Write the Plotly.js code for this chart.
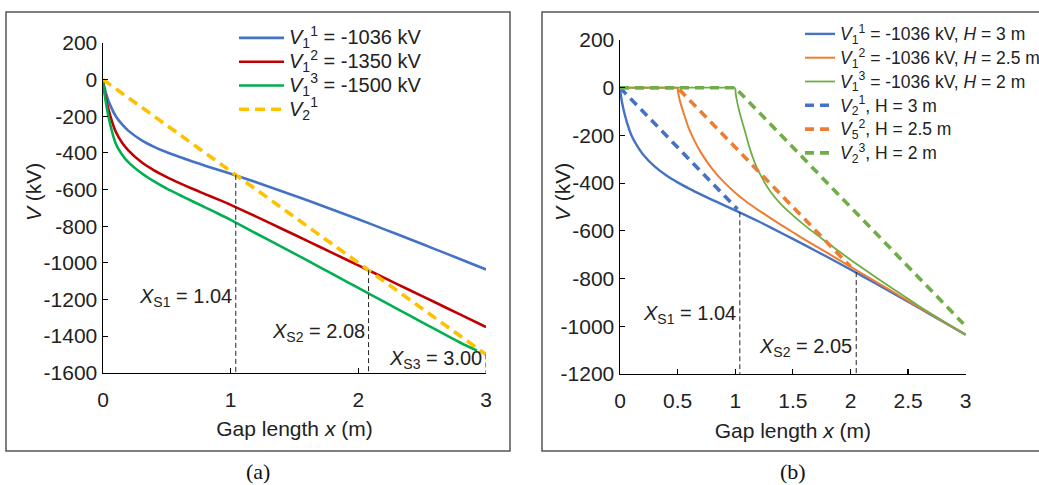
<!DOCTYPE html>
<html>
<head>
<meta charset="utf-8">
<script src="https://cdn.plot.ly/plotly-3.0.1.min.js"></script>
<style>
  html, body { margin: 0; padding: 0; background: #ffffff; overflow: hidden; }
  #chart { width: 1039px; height: 485px; }
</style>
</head>
<body>
<div id="chart"></div>
<script>
// ---- Panel (a): rod-plane gap, different applied voltages ----
// gap coordinate x (m)
const gapX = [0, 0.01, 0.03, 0.06, 0.1, 0.15, 0.2, 0.3, 0.4, 0.5, 0.6, 0.7, 0.8, 0.9, 1.0,
              1.2, 1.4, 1.6, 1.8, 2.0, 2.2, 2.4, 2.6, 2.8, 3.0];
// potential V1 along the gap (kV)
const v1_1036 = [0, -40, -90, -145, -200, -245, -280, -330, -367, -397, -423, -447, -470, -492, -514,
                 -560, -609, -659, -710, -762, -816, -870, -925, -980, -1036];
const v1_1350 = [0, -55, -125, -205, -285, -345, -388, -450, -495, -532, -565, -596, -625, -654, -684,
                 -748, -814, -880, -947, -1014, -1081, -1148, -1215, -1283, -1350];
const gapX1500 = [0, 0.01, 0.03, 0.06, 0.1, 0.15, 0.2, 0.3, 0.4, 0.5, 0.6, 0.7, 0.8, 0.9, 1.0,
                  1.2, 1.4, 1.6, 1.8, 2.0, 2.2, 2.4, 2.6, 2.8, 2.93];
const v1_1500 = [0, -65, -155, -255, -350, -410, -452, -510, -556, -595, -630, -664, -697, -731, -766,
                 -840, -913, -987, -1062, -1137, -1212, -1287, -1362, -1436, -1479];
// leader potential V2 (kV)
const v2X = [0, 3];
const v2V = [0, -1500];
// stability points X_S and the V2 level where they are reached
const xsA = [1.04, 2.08, 3.00];
const xsTopA = [-520, -1040, -1500];
const xsLabelA = ['1.04', '2.08', '3.00'];

// ---- Panel (b): same voltage, different heights H ----
const gapX25 = [0, 0.5, 0.505, 0.515, 0.53, 0.55, 0.6, 0.65, 0.7, 0.8, 0.9, 1.0, 1.1, 1.2, 1.3, 1.4,
                1.5, 1.6, 1.8, 2.0, 2.2, 2.4, 2.6, 2.8, 3.0];
const v1_h25 = [0, 0, -22, -45, -72, -103, -174, -226, -270, -340, -395, -440, -479, -513, -545, -576,
                -606, -636, -693, -750, -808, -865, -922, -979, -1036];
const gapX20 = [0, 1.0, 1.005, 1.015, 1.03, 1.05, 1.08, 1.12, 1.16, 1.2, 1.3, 1.4, 1.5, 1.6, 1.7, 1.8,
                1.9, 2.0, 2.1, 2.2, 2.4, 2.6, 2.8, 3.0];
const v1_h20 = [0, 0, -28, -55, -88, -125, -175, -245, -302, -348, -432, -490, -535, -576, -614, -650,
                -686, -721, -755, -788, -853, -917, -977, -1036];
const v2X_h30 = [0, 1.02];
const v2V_h30 = [0, -510];
const v2X_h25 = [0, 0.5, 2.0];
const v2V_h25 = [0, 0, -750];
const v2X_h20 = [0, 1.0, 2.98];
const v2V_h20 = [0, 0, -990];
const xsB = [1.04, 2.05];
const xsTopB = [-522, -773];
const xsLabelB = ['1.04', '2.05'];

// axis ticks
const yTicksA = [200, 0, -200, -400, -600, -800, -1000, -1200, -1400, -1600];
const yTicksB = [200, 0, -200, -400, -600, -800, -1000, -1200];
const xTicksA = [0, 1, 2, 3];
const xTicksB = [0, 0.5, 1, 1.5, 2, 2.5, 3];

const tickLabel = v => String(v);   // plain hyphen-minus

const FONT = 'Liberation Sans, Arial, sans-serif';
const SERIF = 'Liberation Serif, Times New Roman, serif';
const TXT = '#222222';

// legend entries: row pitch follows the legend font size, the text itself is drawn larger
const big = (s, size) => '<span style="font-size:' + size + 'px">' + s + '</span>';

const traces = [];
function line(x, y, name, color, width, opts) {
  const o = opts || {};
  traces.push({
    type: 'scatter', mode: 'lines', x: x, y: y, name: name,
    xaxis: o.xa || 'x', yaxis: o.ya || 'y', legend: o.legend || 'legend',
    showlegend: o.show !== false,
    line: { color: color, width: width, dash: o.dash || 'solid',
            shape: o.smooth ? 'spline' : 'linear', smoothing: o.smooth ? 0.8 : undefined },
    hoverinfo: 'skip'
  });
}

// (a)
const LA = { smooth: true };
line(gapX, v1_1036, big('<i>V</i><sub>1</sub><sup>1</sup> = -1036 kV', 20), '#4472C4', 2.6, LA);
line(gapX, v1_1350, big('<i>V</i><sub>1</sub><sup>2</sup> = -1350 kV', 20), '#C00000', 2.6, LA);
line(gapX1500, v1_1500, big('<i>V</i><sub>1</sub><sup>3</sup> = -1500 kV', 20), '#00B050', 2.6, LA);
line(v2X, v2V, big('<i>V</i><sub>2</sub><sup>1</sup>', 20), '#FFC000', 3.6, { dash: '10px,6px' });
xsA.forEach((xs, i) => {
  line([xs, xs], [xsTopA[i], yTicksA[yTicksA.length - 1]], 'XS' + (i + 1), '#222222', 1,
       { dash: '5px,3px', show: false });
});

// (b)
const B = { xa: 'x2', ya: 'y2', legend: 'legend2' };
const BS = Object.assign({ smooth: true }, B);
const BD = Object.assign({ dash: '9px,6px' }, B);
// flat parts (before the leader starts) drawn straight, the decay drawn smooth
line(gapX25.slice(0, 2), v1_h25.slice(0, 2), '', '#ED7D31', 2.0, Object.assign({ show: false }, B));
line(gapX20.slice(0, 2), v1_h20.slice(0, 2), '', '#70AD47', 1.8, Object.assign({ show: false }, B));
line(gapX, v1_1036, big('<i>V</i><sub>1</sub><sup>1</sup> = -1036 kV, <i>H</i> = 3 m', 17.5), '#4472C4', 2.4, BS);
line(gapX25.slice(1), v1_h25.slice(1), big('<i>V</i><sub>1</sub><sup>2</sup> = -1036 kV, <i>H</i> = 2.5 m', 17.5), '#ED7D31', 2.0, BS);
line(gapX20.slice(1), v1_h20.slice(1), big('<i>V</i><sub>1</sub><sup>3</sup> = -1036 kV, <i>H</i> = 2 m', 17.5), '#70AD47', 1.8, BS);
line(v2X_h30, v2V_h30, big('<i>V</i><sub>2</sub><sup>1</sup>, H = 3 m', 17.5), '#4472C4', 3.6, BD);
line(v2X_h25, v2V_h25, big('<i>V</i><sub>5</sub><sup>2</sup>, H = 2.5 m', 17.5), '#ED7D31', 3.6, BD);
line(v2X_h20, v2V_h20, big('<i>V</i><sub>2</sub><sup>3</sup>, H = 2 m', 17.5), '#70AD47', 3.6, BD);
xsB.forEach((xs, i) => {
  line([xs, xs], [xsTopB[i], yTicksB[yTicksB.length - 1]], 'XS' + (i + 1), '#222222', 1,
       Object.assign({ dash: '5px,3px', show: false }, B));
});

const W = 1039, H = 485;
const px = v => v / W;
const py = v => (H - v) / H;

function xAxis(domain, ticks, anchor) {
  return {
    domain: domain, anchor: anchor, range: [0, 3],
    tickvals: ticks, ticktext: ticks.map(tickLabel),
    ticks: 'inside', ticklen: 5, tickwidth: 1.2, tickcolor: '#000',
    showline: true, linecolor: '#000', linewidth: 1.5, mirror: false,
    showgrid: false, zeroline: false, ticklabelstandoff: 7,
    tickfont: { family: FONT, size: 21, color: TXT },
    title: { text: 'Gap length <i>x</i> (m)', font: { family: FONT, size: 21, color: TXT }, standoff: 12 }
  };
}
function yAxis(domain, range, ticks, anchor) {
  return {
    domain: domain, anchor: anchor, range: range,
    tickvals: ticks, ticktext: ticks.map(tickLabel),
    ticks: 'inside', ticklen: 5, tickwidth: 1.2, tickcolor: '#000',
    showline: true, linecolor: '#000', linewidth: 1.5, mirror: false,
    showgrid: false, zeroline: false,
    tickfont: { family: FONT, size: 21, color: TXT }
  };
}

function xsNote(xs, label, idx, y, xref, yref) {
  return {
    x: xs, y: y, xref: xref, yref: yref, xanchor: 'right', yanchor: 'middle', xshift: -2,
    showarrow: false,
    text: '<i>X</i><sub>S' + idx + '</sub> = ' + label,
    font: { family: FONT, size: 20, color: TXT }
  };
}

const annYA = [-1188, -1379, -1526];
const annYB = [-952, -1091];
const annotations = [];
xsA.forEach((xs, i) => annotations.push(xsNote(xs, xsLabelA[i], i + 1, annYA[i], 'x', 'y')));
xsB.forEach((xs, i) => annotations.push(xsNote(xs, xsLabelB[i], i + 1, annYB[i], 'x2', 'y2')));
// vertical axis titles
[[33, 192], [562, 192]].forEach(p => annotations.push({
  x: px(p[0]), y: py(p[1]), xref: 'paper', yref: 'paper', xanchor: 'center', yanchor: 'middle',
  textangle: -90, showarrow: false, text: '<i>V</i> (kV)', font: { family: FONT, size: 21, color: TXT }
}));
// panel captions
[['(a)', 258], ['(b)', 793]].forEach(c => annotations.push({
  x: px(c[1]), y: py(471), xref: 'paper', yref: 'paper', xanchor: 'center', yanchor: 'middle',
  showarrow: false, text: c[0], font: { family: SERIF, size: 22, color: '#111' }
}));

// panel frames (the right panel's frame runs off the right edge)
const fa = [px(6), px(510), py(451), py(12)];
const fb = [px(542), 1, py(451), py(12)];
const layout = {
  width: W, height: H,
  margin: { l: 0, r: 0, t: 0, b: 0, autoexpand: false },
  paper_bgcolor: '#ffffff', plot_bgcolor: 'rgba(0,0,0,0)',
  font: { family: FONT, color: TXT },
  xaxis: xAxis([px(103), px(486)], xTicksA, 'y'),
  yaxis: yAxis([py(372.8), py(42.9)], [-1600, 200], yTicksA, 'x'),
  xaxis2: xAxis([px(620), px(965.7)], xTicksB, 'y2'),
  yaxis2: yAxis([py(373.9), py(40)], [-1200, 200], yTicksB, 'x2'),
  legend: {
    xref: 'container', yref: 'container',
    x: px(234), y: py(21), xanchor: 'left', yanchor: 'top',
    bgcolor: 'rgba(0,0,0,0)', borderwidth: 0, itemwidth: 45,
    font: { family: FONT, size: 16, color: TXT }, tracegroupgap: 0
  },
  legend2: {
    xref: 'container', yref: 'container',
    x: px(800), y: py(17), xanchor: 'left', yanchor: 'top',
    bgcolor: 'rgba(0,0,0,0)', borderwidth: 0, itemwidth: 30,
    font: { family: FONT, size: 16, color: TXT }, tracegroupgap: 0
  },
  shapes: [
    { type: 'path', xref: 'paper', yref: 'paper',
      path: `M${fa[0]},${fa[2]} L${fa[1]},${fa[2]} L${fa[1]},${fa[3]} L${fa[0]},${fa[3]} Z`,
      line: { color: '#555555', width: 1.5 } },
    { type: 'path', xref: 'paper', yref: 'paper',
      path: `M${fb[1]},${fb[2]} L${fb[0]},${fb[2]} L${fb[0]},${fb[3]} L${fb[1]},${fb[3]}`,
      line: { color: '#555555', width: 1.5 } }
  ],
  annotations: annotations
};

Plotly.newPlot('chart', traces, layout, { staticPlot: true, displayModeBar: false });
</script>
</body>
</html>
